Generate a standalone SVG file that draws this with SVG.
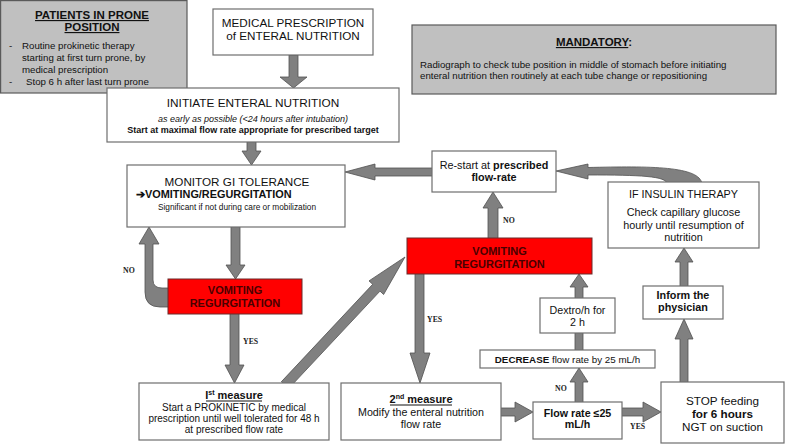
<svg xmlns="http://www.w3.org/2000/svg" width="785" height="445" viewBox="0 0 785 445">
<style>
.bx{fill:#fff;stroke:#6e6e6e;stroke-width:1.2}
.gb{fill:#c0c0c0;stroke:#5a5a5a;stroke-width:1.2}
.rb{fill:#ff0000;stroke:#6a2a2a;stroke-width:1}
.ar{fill:#808080;stroke:#505050;stroke-width:0.8}
text{font-family:"Liberation Sans",Arial,sans-serif;fill:#111}
.c{text-anchor:middle}
.b{font-weight:bold}
.lb{font-family:"Liberation Serif","Times New Roman",serif;font-weight:bold;font-size:7.8px;fill:#222}
.rt{font-weight:bold;font-size:11px;fill:#4a0000;text-anchor:middle}
.ul{stroke:#111;stroke-width:1}
</style>
<rect width="785" height="445" fill="#fff"/>
<g id="connectors">
  <polygon class="ar" points="289,55 298,55 298,77 307,77 293.5,88 280,77 289,77"/>
  <polygon class="ar" points="247,140 256,140 256,151 261,151 251.5,165 242,151 247,151"/>
  <polygon class="ar" points="231,225 240,225 240,265 245,265 235.5,279 226,265 231,265"/>
  <polygon class="ar" points="230,312 239,312 239,365 244,365 234.5,383 225,365 230,365"/>
  <polygon class="ar" points="415,272 424,272 424,353 430,353 420,383 410,353 415,353"/>
  <polygon class="ar" points="488,240 498,240 498,208 503,208 493,192 483,208 488,208"/>
  <polygon class="ar" points="499,408 515,408 515,402 533,412 515,422 515,416 499,416"/>
  <polygon class="ar" points="620,408 643,408 643,402 661,412 643,422 643,416 620,416"/>
  <polygon class="ar" points="575,404 583,404 583,382 588,382 579,368 570,382 575,382"/>
  <rect class="ar" x="575" y="331" width="8" height="21"/>
  <polygon class="ar" points="575,300 583,300 583,287 588,287 579,274 570,287 575,287"/>
  <polygon class="ar" points="680,384 688,384 688,339 693,339 684,319 675,339 680,339"/>
  <polygon class="ar" points="680,288 688,288 688,262 693,262 684,248 675,262 680,262"/>
  <path class="ar" d="M345,172 L375,164 L375,168 L434,168 L434,176 L375,176 L375,180 Z"/>
  <path class="ar" d="M556,171 L588,164 L588,167.5 C650,166 700,166 702,184 L667,184 C667,176 640,175 588,175 L588,179 Z"/>
  <path class="ar" d="M149,227 L159,244 L153,244 L153,280 Q153,288 162,288 L170,288 L170,307 L160,307 Q145,307 145,292 L145,244 L139,244 Z"/>
  <polygon class="ar" points="288.6,388.6 380,291.1 383.6,294.5 405,257 369,280.9 372.7,284.3 281.3,381.8"/>
  <text class="lb" x="123" y="273">NO</text>
  <text class="lb" x="243" y="344">YES</text>
  <text class="lb" x="503" y="223">NO</text>
  <text class="lb" x="427" y="322">YES</text>
  <text class="lb" x="555" y="391">NO</text>
  <text class="lb" x="630" y="429">YES</text>
</g>
<g id="patients">
  <rect class="gb" x="0.6" y="0.6" width="186.4" height="92.4"/>
  <text class="c b" x="92" y="19" font-size="11.5" text-decoration="underline">PATIENTS IN PRONE</text>
  <text class="c b" x="92" y="31" font-size="11.5" text-decoration="underline">POSITION</text>
  <text x="9" y="49" font-size="9.7">-</text>
  <text x="22" y="49" font-size="9.7">Routine prokinetic therapy</text>
  <text x="22" y="61" font-size="9.7">starting at first turn prone, by</text>
  <text x="22" y="73" font-size="9.7">medical prescription</text>
  <text x="9" y="85" font-size="9.7">-</text>
  <text x="26" y="85" font-size="9.7">Stop 6 h after last turn prone</text>
</g>
<g id="medical">
  <rect class="bx" x="213" y="9" width="160" height="46"/>
  <text class="c" x="293" y="27" font-size="11.7">MEDICAL PRESCRIPTION</text>
  <text class="c" x="293" y="40" font-size="11.7">of ENTERAL NUTRITION</text>
</g>
<g id="initiate">
  <rect class="bx" x="107" y="88" width="292" height="54"/>
  <text class="c" x="253" y="107" font-size="11.8">INITIATE ENTERAL NUTRITION</text>
  <text class="c" x="253" y="122" font-size="9" font-style="italic">as early as possible (&lt;24 hours after intubation)</text>
  <text class="c b" x="253" y="133" font-size="9">Start at maximal flow rate appropriate for prescribed target</text>
</g>
<g id="mandatory">
  <rect class="gb" x="412" y="25" width="364" height="69"/>
  <text class="c b" x="594" y="46" font-size="11.5"><tspan text-decoration="underline">MANDATORY</tspan>:</text>
  <text x="420" y="67.5" font-size="9.7">Radiograph to check tube position in middle of stomach before initiating</text>
  <text x="420" y="78.5" font-size="9.7">enteral nutrition then routinely at each tube change or repositioning</text>
</g>
<g id="monitor">
  <rect class="bx" x="127" y="165" width="218" height="62"/>
  <text class="c" x="237" y="186" font-size="11.7">MONITOR GI TOLERANCE</text>
  <text class="b" x="136" y="198" font-size="10.9">➔VOMITING/REGURGITATION</text>
  <text class="c" x="237" y="210" font-size="8.3">Significant if not during care or mobilization</text>
</g>
<g id="restart">
  <rect class="bx" x="432" y="151" width="124" height="41"/>
  <text class="c" x="494" y="169" font-size="10.8">Re-start at <tspan class="b">prescribed</tspan></text>
  <text class="c b" x="494" y="181" font-size="10.8">flow-rate</text>
</g>
<g id="insulin">
  <rect class="bx" x="608" y="182" width="151" height="66"/>
  <text class="c" x="683.5" y="198" font-size="10.8">IF INSULIN THERAPY</text>
  <text class="c" x="683.5" y="216" font-size="10.8">Check capillary glucose</text>
  <text class="c" x="683.5" y="229" font-size="10.8">hourly until resumption of</text>
  <text class="c" x="683.5" y="241" font-size="10.8">nutrition</text>
</g>
<g id="vomiting1">
  <rect class="rb" x="168" y="279" width="134" height="35"/>
  <text class="rt" x="235" y="294">VOMITING</text>
  <text class="rt" x="235" y="307">REGURGITATION</text>
</g>
<g id="vomiting2">
  <rect class="rb" x="407" y="238" width="185" height="36"/>
  <text class="rt" x="499.5" y="255">VOMITING</text>
  <text class="rt" x="499.5" y="268">REGURGITATION</text>
</g>
<g id="measure1">
  <rect class="bx" x="139" y="383" width="190" height="57"/>
  <text class="c b" x="234" y="399" font-size="11">I<tspan font-size="7" dy="-4">st</tspan><tspan dy="4"> measure</tspan></text>
  <line class="ul" x1="206" y1="401" x2="262" y2="401"/>
  <text class="c" x="234" y="411" font-size="10">Start a PROKINETIC by medical</text>
  <text class="c" x="234" y="422" font-size="10">prescription until well tolerated for 48 h</text>
  <text class="c" x="234" y="433" font-size="10">at prescribed flow rate</text>
</g>
<g id="measure2">
  <rect class="bx" x="341" y="383" width="160" height="57"/>
  <text class="c b" x="421" y="403" font-size="11">2<tspan font-size="7" dy="-4">nd</tspan><tspan dy="4"> measure</tspan></text>
  <line class="ul" x1="390" y1="405" x2="452" y2="405"/>
  <text class="c" x="421" y="416" font-size="10.7">Modify the enteral nutrition</text>
  <text class="c" x="421" y="428" font-size="10.7">flow rate</text>
</g>
<g id="flowrate">
  <rect class="bx" x="533" y="402" width="89" height="37"/>
  <text class="c b" x="577.5" y="417" font-size="10.7">Flow rate ≤25</text>
  <text class="c b" x="577.5" y="428" font-size="10.7">mL/h</text>
</g>
<g id="stop">
  <rect class="bx" x="661" y="382" width="123" height="61"/>
  <text class="c" x="722.5" y="405" font-size="11.7">STOP feeding</text>
  <text class="c b" x="722.5" y="418" font-size="11.7">for 6 hours</text>
  <text class="c" x="722.5" y="431" font-size="11.7">NGT on suction</text>
</g>
<g id="decrease">
  <rect class="bx" x="480" y="350" width="175" height="18"/>
  <text class="c" x="567.5" y="363" font-size="9.8"><tspan class="b">DECREASE</tspan> flow rate by 25 mL/h</text>
</g>
<g id="dextro">
  <rect class="bx" x="540" y="298" width="75" height="35"/>
  <text class="c" x="577.5" y="314" font-size="10.7">Dextro/h for</text>
  <text class="c" x="577.5" y="326" font-size="10.7">2 h</text>
</g>
<g id="inform">
  <rect class="bx" x="643" y="286" width="80" height="33"/>
  <text class="c b" x="683" y="299" font-size="10.8">Inform the</text>
  <text class="c b" x="683" y="311" font-size="10.8">physician</text>
</g>
</svg>
